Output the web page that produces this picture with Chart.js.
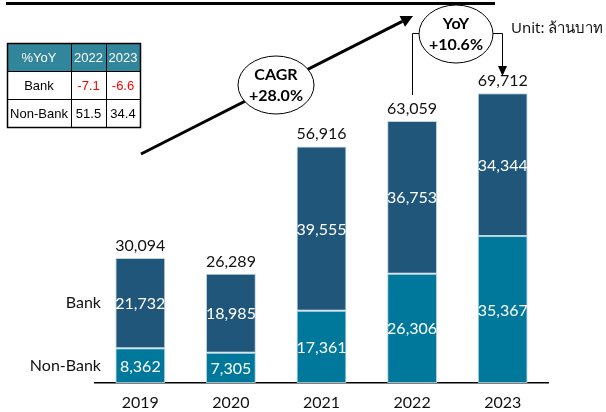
<!DOCTYPE html>
<html>
<head>
<meta charset="utf-8">
<script src="https://cdn.jsdelivr.net/npm/chart.js@4.4.1/dist/chart.umd.min.js"></script>
<style>
  html, body { margin: 0; padding: 0; background: #fff; }
  #wrap { position: relative; width: 606px; height: 412px; }
</style>
</head>
<body>
<div id="wrap"><canvas id="c" width="606" height="412"></canvas></div>
<script>
// ---- data ----
const years = ['2019', '2020', '2021', '2022', '2023'];
const nonBank = [8362, 7305, 17361, 26306, 35367];
const bank = [21732, 18985, 39555, 36753, 34344];
const totals = [30094, 26289, 56916, 63059, 69712];
const seriesNames = ['Non-Bank', 'Bank'];

const tableHeader = ['%YoY', '2022', '2023'];
const tableRowNames = ['Bank', 'Non-Bank'];
const yoyBank = ['-7.1', '-6.6'];
const yoyNonBank = ['51.5', '34.4'];

const cagrLines = ['CAGR', '+28.0%'];
const yoyLines = ['YoY', '+10.6%'];
const unitText = 'Unit: ล้านบาท';

const fmt = v => v.toLocaleString('en-US');
const NUM_FONT = 'Lato, "Open Sans", "Noto Sans", sans-serif';

const overlay = {
  id: 'overlay',
  afterDatasetsDraw(chart) {
    const ctx = chart.ctx;
    const xs = chart.scales.x, ys = chart.scales.y;
    ctx.save();

    // top rule
    ctx.fillStyle = '#000';
    ctx.fillRect(6, 2, 489, 3);

    // segment labels
    ctx.fillStyle = '#fff';
    ctx.font = '16px ' + NUM_FONT;
    ctx.textAlign = 'center';
    ctx.textBaseline = 'middle';
    chart.data.datasets.forEach((ds, di) => {
      const meta = chart.getDatasetMeta(di);
      meta.data.forEach((bar, i) => {
        ctx.fillText(fmt(ds.data[i]), bar.x, (bar.y + bar.base) / 2 + 1);
      });
    });

    // totals
    ctx.fillStyle = '#111';
    ctx.font = '16px ' + NUM_FONT;
    ctx.textBaseline = 'alphabetic';
    totals.forEach((t, i) => {
      ctx.fillText(fmt(t), xs.getPixelForValue(i), ys.getPixelForValue(t) - 7);
    });

    // left series labels aligned to first bar's segments
    ctx.textAlign = 'right';
    ctx.textBaseline = 'middle';
    ctx.font = '16px ' + NUM_FONT;
    ctx.fillStyle = '#111';
    const m0 = chart.getDatasetMeta(0).data[0];
    const m1 = chart.getDatasetMeta(1).data[0];
    ctx.fillText(seriesNames[1], 101, (m1.y + m1.base) / 2);
    ctx.fillText(seriesNames[0], 101, (m0.y + m0.base) / 2);

    // table
    const cx = [7, 71, 106, 140];
    const ry = [43, 71, 99, 127];
    ctx.fillStyle = '#31869b';
    ctx.fillRect(cx[0], ry[0], cx[3] - cx[0], ry[1] - ry[0]);
    ctx.strokeStyle = '#000';
    ctx.lineWidth = 1;
    ry.forEach(y => { ctx.beginPath(); ctx.moveTo(cx[0], y + 0.5); ctx.lineTo(cx[3], y + 0.5); ctx.stroke(); });
    cx.forEach(x => { ctx.beginPath(); ctx.moveTo(x + 0.5, ry[0]); ctx.lineTo(x + 0.5, ry[3]); ctx.stroke(); });
    ctx.lineWidth = 1.5;
    ctx.strokeRect(cx[0] + 0.5, ry[0] + 0.5, cx[3] - cx[0], ry[3] - ry[0]);
    ctx.font = '13px "Liberation Sans", Arial, sans-serif';
    ctx.textAlign = 'center';
    ctx.textBaseline = 'middle';
    const cc = i => (cx[i] + cx[i + 1]) / 2;
    const rc = j => (ry[j] + ry[j + 1]) / 2 + 1;
    ctx.fillStyle = '#fff';
    tableHeader.forEach((h, i) => ctx.fillText(h, cc(i), rc(0)));
    const rows = [yoyBank, yoyNonBank];
    tableRowNames.forEach((n, j) => {
      ctx.fillStyle = '#000';
      ctx.fillText(n, cc(0), rc(j + 1));
      rows[j].forEach((v, i) => {
        ctx.fillStyle = parseFloat(v) < 0 ? '#ff0000' : '#000';
        ctx.fillText(v, cc(i + 1), rc(j + 1));
      });
    });

    // CAGR arrow
    ctx.strokeStyle = '#000';
    ctx.fillStyle = '#000';
    ctx.lineWidth = 3;
    const ax0 = 141, ay0 = 154, ax1 = 413, ay1 = 16;
    const ang = Math.atan2(ay1 - ay0, ax1 - ax0);
    const ah = 12, aw = 6;
    const bx = ax1 - ah * Math.cos(ang), by = ay1 - ah * Math.sin(ang);
    ctx.beginPath(); ctx.moveTo(ax0, ay0); ctx.lineTo(bx, by); ctx.stroke();
    ctx.beginPath();
    ctx.moveTo(ax1, ay1);
    ctx.lineTo(bx + aw * Math.sin(ang), by - aw * Math.cos(ang));
    ctx.lineTo(bx - aw * Math.sin(ang), by + aw * Math.cos(ang));
    ctx.closePath(); ctx.fill();

    function ellipse(cxp, cyp, rx, ryp, lines) {
      ctx.beginPath();
      ctx.ellipse(cxp, cyp, rx, ryp, 0, 0, Math.PI * 2);
      ctx.fillStyle = '#fff';
      ctx.fill();
      ctx.lineWidth = 1;
      ctx.strokeStyle = '#000';
      ctx.stroke();
      ctx.fillStyle = '#000';
      ctx.font = 'bold 16px ' + NUM_FONT;
      ctx.textAlign = 'center';
      ctx.textBaseline = 'middle';
      ctx.fillText(lines[0], cxp, cyp - 10);
      ctx.fillText(lines[1], cxp, cyp + 11);
    }
    ellipse(276, 85, 38, 29, cagrLines);

    // YoY bracket
    ctx.lineWidth = 1;
    ctx.strokeStyle = '#000';
    const xr = 502;
    ctx.beginPath();
    ctx.moveTo(412.5, 95); ctx.lineTo(412.5, 33.5); ctx.lineTo(422, 33.5);
    ctx.stroke();
    ctx.beginPath();
    ctx.moveTo(490, 33.5); ctx.lineTo(xr + 0.5, 33.5); ctx.lineTo(xr + 0.5, 68);
    ctx.stroke();
    ctx.fillStyle = '#000';
    ctx.beginPath();
    ctx.moveTo(xr + 0.5, 76); ctx.lineTo(xr - 4, 66); ctx.lineTo(xr + 5, 66);
    ctx.closePath(); ctx.fill();
    ellipse(456, 34, 37, 29, yoyLines);

    // unit
    ctx.fillStyle = '#111';
    ctx.font = '15px "Noto Sans", "DejaVu Sans", sans-serif';
    ctx.textAlign = 'left';
    ctx.textBaseline = 'middle';
    ctx.fillText(unitText, 511, 29);

    ctx.restore();
  }
};

new Chart(document.getElementById('c'), {
  type: 'bar',
  data: {
    labels: years,
    datasets: [
      { label: seriesNames[0], data: nonBank, backgroundColor: '#00789c', borderColor: 'rgba(170,205,220,0.9)', borderWidth: 1, borderSkipped: false },
      { label: seriesNames[1], data: bank, backgroundColor: '#1f5679', borderColor: 'rgba(170,200,215,0.8)', borderWidth: 1, borderSkipped: false }
    ]
  },
  options: {
    responsive: false,
    animation: false,
    devicePixelRatio: 1,
    layout: { padding: { left: 95, right: 58, top: 9, bottom: 0 } },
    plugins: { legend: { display: false }, tooltip: { enabled: false } },
    datasets: { bar: { categoryPercentage: 1, barPercentage: 0.55 } },
    scales: {
      x: {
        stacked: true,
        grid: { display: false, drawTicks: false },
        border: { display: true, color: '#000', width: 1.5 },
        ticks: { color: '#111', font: { size: 16, family: NUM_FONT }, padding: 10 },
        afterFit(scale) { scale.height = 29; }
      },
      y: { stacked: true, display: false, min: 0, max: 90000 }
    }
  },
  plugins: [overlay]
});
</script>
</body>
</html>
